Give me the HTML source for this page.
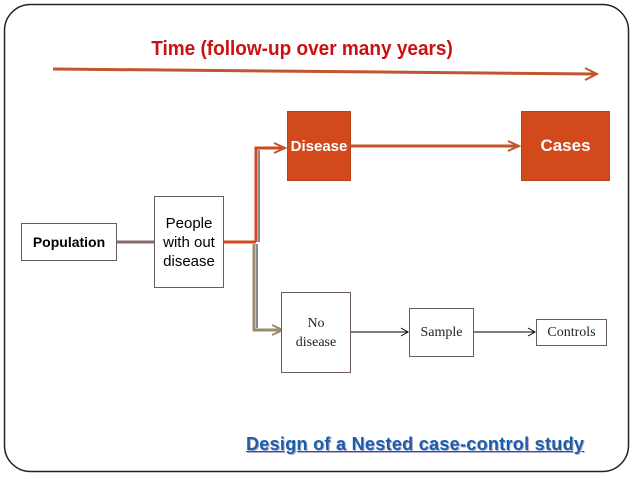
<!DOCTYPE html>
<html><head><style>
body{margin:0;width:638px;height:479px;background:#fff;position:relative;overflow:hidden;font-family:"Liberation Sans",sans-serif}
.b{position:absolute;box-sizing:border-box;display:flex;align-items:center;justify-content:center;text-align:center}
.o{background:#d24a1c;color:#fff;font-weight:bold;font-size:16px;border:1px solid #b8401a}
.w{border:1px solid #6d5a5a;background:#fff}
.s{font-family:"Liberation Serif",serif;font-size:14px;color:#222}
</style></head><body>
<svg width="638" height="479" style="position:absolute;left:0;top:0">
<rect x="4.5" y="4.5" width="624" height="467" rx="26" fill="none" stroke="#222" stroke-width="1.5"/>
<line x1="53" y1="69" x2="595" y2="74" stroke="#c0552e" stroke-width="3"/>
<polyline points="585,68 597,74 585,80" fill="none" stroke="#c0552e" stroke-width="2"/>
<line x1="117" y1="242" x2="154" y2="242" stroke="#8a6a6a" stroke-width="3"/>
<line x1="224" y1="242" x2="256" y2="242" stroke="#d24a1c" stroke-width="3"/>
<polyline points="256,242 256,148 285,148" fill="none" stroke="#d24a1c" stroke-width="3"/>
<line x1="259" y1="150" x2="259" y2="242" stroke="#888" stroke-width="2"/>
<polyline points="254,244 254,330 282,330" fill="none" stroke="#9a8a70" stroke-width="3"/>
<line x1="257" y1="244" x2="257" y2="328" stroke="#888" stroke-width="2"/>
<polyline points="274,143 285,148 274,153" fill="none" stroke="#c0552e" stroke-width="2"/>
<polyline points="272,325 283,330 272,335" fill="none" stroke="#9a8a70" stroke-width="2"/>
<line x1="351" y1="146" x2="519" y2="146" stroke="#c0552e" stroke-width="3"/>
<polyline points="508,141 519,146 508,151" fill="none" stroke="#c0552e" stroke-width="2"/>
<line x1="351" y1="332" x2="408" y2="332" stroke="#000" stroke-width="1"/>
<polyline points="401,328 408,332 401,336" fill="none" stroke="#000" stroke-width="1"/>
<line x1="474" y1="332" x2="535" y2="332" stroke="#000" stroke-width="1"/>
<polyline points="528,328 535,332 528,336" fill="none" stroke="#000" stroke-width="1"/>
</svg>
<div style="position:absolute;left:0;width:604px;top:38px;text-align:center;color:#cc1111;font-weight:bold;font-size:20px;transform:scaleX(0.95)">Time (follow-up over many years)</div>
<div class="b o" style="left:287px;top:111px;width:64px;height:70px;font-size:15px">Disease</div>
<div class="b o" style="left:521px;top:111px;width:89px;height:70px;font-size:17px">Cases</div>
<div class="b w" style="left:21px;top:223px;width:96px;height:38px;font-weight:bold;font-size:14px">Population</div>
<div class="b w" style="left:154px;top:196px;width:70px;height:92px;font-size:15px;line-height:19px">People<br>with out<br>disease</div>
<div class="b w s" style="left:281px;top:292px;width:70px;height:81px;line-height:19px">No<br>disease</div>
<div class="b w s" style="left:409px;top:308px;width:65px;height:49px">Sample</div>
<div class="b w s" style="left:536px;top:319px;width:71px;height:27px">Controls</div>
<div style="position:absolute;left:246px;top:434px;color:#1a5fa8;font-weight:bold;font-size:18px;letter-spacing:0.3px;text-decoration:underline;text-shadow:1px 1px 0 #aac">Design of a Nested case-control study</div>
</body></html>
